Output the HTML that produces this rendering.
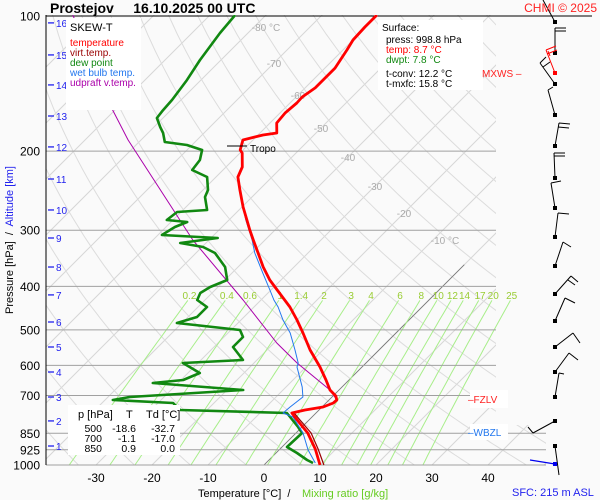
<!DOCTYPE html>
<html><head><meta charset="utf-8"><style>
html,body{margin:0;padding:0;background:#fafafa;}
svg{display:block;font-family:"Liberation Sans",sans-serif;}
</style></head><body>
<svg id="chart" width="600" height="500" viewBox="0 0 600 500" xmlns="http://www.w3.org/2000/svg">
<defs>
<clipPath id="gridClip"><polygon points="46,15 496,15 496,425 546,425 546,465 46,465"/></clipPath>
<clipPath id="mixClip"><polygon points="46,300 520,300 520,465 46,465"/></clipPath>
<clipPath id="dataClip"><rect x="46" y="15" width="500" height="452"/></clipPath>
</defs>
<rect x="0" y="0" width="600" height="500" fill="#fafafa"/>
<g id="grid" clip-path="url(#gridClip)"></g>
<g id="mix" clip-path="url(#mixClip)"></g>
<g id="plevels"></g>
<g id="labels"></g>
<g id="series" clip-path="url(#dataClip)"></g>
<g id="winds"></g>
<g id="over"></g>
</svg>
<script>
// ---- data (pressure hPa, temperature °C) ----
const tempP = [1000,921.2,848.7,793.9,765.9,754.2,742.7,727.6,716.5,702.0,680.7,646.7,605.0,554.5,508.2,475.4,444.7,407.6,387.3,362.3,337.2,315.4,299.7,284.7,266.3,244.1,228.3,216.9,201.9,198.8,188.9,184.1,182.2,173.1,164.5,156.2,151.5,144.6,130.6,119.0,113.1,105.8,99.5];
const tempT = [10.0,6.3,2.1,-2.1,-4.3,-2.5,0.2,1.3,1.4,0.5,-1.6,-4.1,-7.5,-12.3,-16.6,-20.0,-23.6,-28.9,-32.0,-35.5,-38.9,-42.1,-44.5,-46.8,-49.8,-53.4,-56.1,-57.1,-59.6,-60.5,-61.8,-59.1,-57.0,-58.8,-59.1,-58.8,-58.9,-58.2,-58.2,-59.3,-60.0,-60.2,-60.2];
const virtP = [1000,921.2,848.7,793.9,765.9,754.2];
const virtT = [10.7,6.8,2.7,-1.6,-3.9,-2.3];
const wetP = [989.8,926.0,848.7,781.8,765.9,742.7,705.6,670.3,605.0,592.7,554.5,508.2,475.4,444.7,429.0,407.6,373.6,337.2,315.4,284.7,266.3];
const wetT = [8.8,5.2,1.25,-3.4,-5.9,-5.7,-5.2,-7.1,-11.6,-12.1,-15.0,-18.9,-22.5,-25.7,-27.7,-30.2,-34.5,-39.5,-42.3,-47.0,-49.8];
const dewP = [989.8,974.7,940.3,911.8,848.7,822.9,765.9,754.2,727.6,716.5,705.6,680.7,656.7,646.7,623.9,592.7,583.7,546.0,518.7,500.4,482.8,468.1,444.7,429.0,413.9,401.4,387.3,362.3,337.2,327.0,320.3,312.2,307.4,295.1,287.6,284.7,273.2,270.4,253.0,244.1,228.3,220.3,209.3,198.8,193.8,190.8,182.2,176.7,168.7,162.0,153.8,138.9,125.3,109.1,99.5];
const dewT = [8.4,6.8,3.75,0.9,1.1,-0.7,-5.2,-24.8,-27.3,-38.6,-36.1,-17.1,-34.5,-29.6,-27.9,-32.7,-22.5,-26.6,-26.6,-28.4,-40.9,-38.4,-38.4,-41.4,-42.1,-41.4,-39.6,-42.3,-46.6,-49.8,-54.6,-48.8,-59.3,-58.4,-57.1,-61.1,-60.7,-55.7,-58.4,-59.1,-61.6,-65.5,-65.9,-67.3,-70.9,-75.4,-77.3,-78.9,-81.1,-81.4,-81.6,-82.5,-83.75,-85.0,-85.5];
const parcelP = [716.5,680.7,592.7,535.0,429.0,315.4,188.9,162.0,99.5];
const parcelT = [1.4,-1.6,-12.3,-19.5,-33.2,-52.9,-82.3,-90.4,-114.5];
const pLevels = [100,200,300,400,500,600,700,850,925,1000];
const tTicks = [-30,-20,-10,0,10,20,30,40];
const isoLabels = [-80,-70,-60,-50,-40,-30,-20,-10];
const mixRatios = [0.2,0.4,0.6,1,1.4,2,3,4,6,8,10,12,14,17,20,25];
const altKm = [1,2,3,4,5,6,7,8,9,10,11,12,13,14,15,16];
const altP = [907.2,797.7,705.6,620.7,546.0,480.3,418.0,362.3,312.2,270.4,230.7,195.7,167.0,142.4,122.1,103.6];

// ---- axes ----
const Y0=465, PY=195, X0=264, SX=5.6, SK=1.0;
function yOf(p){return Y0-PY*Math.log(1000/p);}
function xOf(t,p){return X0+SX*t+SK*(Y0-yOf(p));}
const NS='http://www.w3.org/2000/svg';
function mk(tag,attrs,parent){const e=document.createElementNS(NS,tag);for(const k in attrs)e.setAttribute(k,attrs[k]);parent.appendChild(e);return e;}
function txt(s,attrs,parent){const e=mk('text',attrs,parent);e.textContent=s;return e;}
const G=id=>document.getElementById(id);

// isotherms
for(let t=-160;t<=50;t+=10){
  const l=mk('line',{x1:xOf(t,1050),y1:yOf(1050),x2:xOf(t,90),y2:yOf(90),stroke:'#d6d6d6','stroke-width':1},G('grid'));
  
  
}
// dry adiabats
for(let th=230;th<=560;th+=10){
  let d='';
  for(let p=1050;p>=90;p-=10){const t=th*Math.pow(p/1000,0.286)-273.15;d+=(d?'L':'M')+xOf(t,p).toFixed(1)+','+yOf(p).toFixed(1);}
  const a=mk('path',{d:d,fill:'none',stroke:'#dcdcdc','stroke-width':1},G('grid'));
  
  
}
// 0°C isotherm highlight
{const z=mk('line',{x1:xOf(0,1010),y1:yOf(1010),x2:xOf(0,358),y2:yOf(358),stroke:'#777','stroke-width':0.8},G('grid'));

}
// mixing ratio lines
function tdOf(w,p){const e=w*p/(622+w);const L=Math.log(e/6.112);return 243.5*L/(17.67-L);}
mixRatios.forEach(w=>{
  let d='';
  for(let p=1000;p>=425;p-=15){d+=(d?'L':'M')+xOf(tdOf(w,p),p).toFixed(1)+','+yOf(p).toFixed(1);}
  const m=mk('path',{d:d,fill:'none',stroke:'#a8ee8a','stroke-width':1},G('mix'));
  
  
  const lb=txt(String(w),{x:xOf(tdOf(w,425),425),y:299,'font-size':10,fill:'#99cc33','text-anchor':'middle'},G('labels'));
  
  
});
// pressure lines & labels
pLevels.forEach(p=>{
  const y=yOf(p);
  const right = p===100?592:(p>=850?546:496);
  const l=mk('line',{x1:46,y1:y,x2:right,y2:y,stroke:p===100?'#000':'#a0a0a0','stroke-width':1},G('plevels'));
  
  
  const t=txt(String(p),{x:40,y:y+4.5,'font-size':12,fill:'#000','text-anchor':'end'},G('labels'));
  
  
});
{const ax=mk('line',{x1:46,y1:15,x2:46,y2:465,stroke:'#000','stroke-width':1},G('plevels'));

}
// temperature ticks
tTicks.forEach(t=>{
  const lb=txt(String(t),{x:xOf(t,1000),y:482,'font-size':12,fill:'#000','text-anchor':'middle'},G('labels'));
  
  
});
// isotherm labels
isoLabels.forEach((t,i)=>{
  const y=[27,63,95,128,157,186,213,240][i];
  const p=1000*Math.exp(-(Y0-y)/PY);
  const lb=txt(t+(t===-80||t===-10?' °C':''),{x:xOf(t,p)+(t===-80||t===-10?12:0),y:y+4,'font-size':10,fill:'#aaaaaa','text-anchor':'middle'},G('labels'));
  
  
});
// altitude labels
altKm.forEach((k,i)=>{
  const y=yOf(altP[i]);
  const d=mk('line',{x1:48,y1:y,x2:54,y2:y,stroke:'#2222ee','stroke-width':1.3},G('labels'));
  
  
  const lb=txt(String(k),{x:56,y:y+4,'font-size':10,fill:'#2222ee'},G('labels'));
  
  
});
// series
function line(P,T,color,w,name){
  let d='';P.forEach((p,i)=>{d+=(i?'L':'M')+xOf(T[i],p).toFixed(1)+','+yOf(p).toFixed(1);});
  const e=mk('path',{d:d,fill:'none',stroke:color,'stroke-width':w,'stroke-linejoin':'round'},G('series'));
  
  
}
line(parcelP,parcelT,'#aa00aa',1,'parcel-line');
line(dewP,dewT,'#118811',2.6,'dewpoint-line');
line(virtP,virtT,'#990000',1.2,'virtual-temperature-line');
line(wetP,wetT,'#2277ee',1,'wet-bulb-line');
line(tempP,tempT,'#ff0000',2.8,'temperature-line');

// wind barbs
const barbs=[
 [22,'M555,22L543,0',''],
 [53,'M555,53L555,28','M555,28L566,28M555,31L566,31'],
 [84,'M555,84L540,63','M540,63L546,57M543,67L550,62'],
 [115,'M555,115L548,90','M548,90L553,87'],
 [146,'M555,146L559,123','M559,123L570,124M558,127L569,128'],
 [178,'M555,178L554,153','M554,153L565,153M554,156L565,156'],
 [208,'M555,208L551,183','M551,183L561,181'],
 [237,'M555,237L558,213','M558,213L569,214'],
 [266,'M555,266L563,242','M563,242L571,247'],
 [294,'M555,294L571,276','M571,276L578,282M568,280L575,285'],
 [321,'M555,321L565,298','M565,298L575,303'],
 [347,'M555,347L573,333','M573,333L580,343'],
 [372,'M555,372L569,353','M569,353L578,360'],
 [397,'M555,397L559,373','M559,373L564,374'],
 [421,'M555,421L533,433','M533,433L528,427'],
 [446,'M555,446L559,475','']
];
barbs.forEach(b=>{
  const g=mk('g',{},G('winds'));
  
  
  mk('path',{d:b[1]+b[2],fill:'none',stroke:'#000','stroke-width':1},g);
  mk('rect',{x:553,y:b[0]-2,width:4,height:4,fill:'#000'},g);
});
{const g=mk('g',{},G('winds'));


mk('path',{d:'M555,73L546,50M546,50L556,46M547,54L557,50M548,51L550,56',fill:'none',stroke:'#ff0000','stroke-width':1},g);
mk('rect',{x:553,y:71,width:4,height:4,fill:'#ff0000'},g);
const s=mk('g',{},G('winds'));


mk('path',{d:'M555,464L530,460',fill:'none',stroke:'#0000ee','stroke-width':1.2},s);
mk('rect',{x:553,y:462,width:4,height:4,fill:'#0000ee'},s);}
</script>
<script>
const O=document.getElementById('over');
function T(s,x,y,size,fill,extra,name){
  const e=document.createElementNS('http://www.w3.org/2000/svg','text');
  e.setAttribute('x',x);e.setAttribute('y',y);e.setAttribute('font-size',size);e.setAttribute('fill',fill);
  if(extra)for(const k in extra)e.setAttribute(k,extra[k]);
  e.textContent=s;
  
  
  O.appendChild(e);return e;
}
function R(x,y,w,h,fill,name){
  const e=document.createElementNS('http://www.w3.org/2000/svg','rect');
  e.setAttribute('x',x);e.setAttribute('y',y);e.setAttribute('width',w);e.setAttribute('height',h);e.setAttribute('fill',fill);
  
  
  O.appendChild(e);
}
T('Prostejov     16.10.2025 00 UTC',50,13,14,'#000',{'font-weight':'bold',style:'white-space:pre'},'chart-title');
T('CHMI © 2025',597,12,12,'#ff2222',{'text-anchor':'end'},'copyright');
// legend
R(66,18,75,92,'#ffffff','legend-box');
T('SKEW-T',70,31,11,'#000',{},'legend-title');
T('temperature',70,46,10,'#ff0000',{},'legend-temperature');
T('virt.temp.',70,56,10,'#990000',{},'legend-virtual-temp');
T('dew point',70,66,10,'#118811',{},'legend-dewpoint');
T('wet bulb temp.',70,76,10,'#2277ee',{},'legend-wet-bulb');
T('udpraft v.temp.',70,86,10,'#aa00aa',{},'legend-updraft');
// surface box
R(378,20,105,70,'#ffffff','surface-box');
T('Surface:',382,31,10,'#000',{},'surface-title');
T('press: 998.8 hPa',386,43,10,'#000',{},'surface-pressure');
T('temp: 8.7 °C',386,53,10,'#ff0000',{},'surface-temp');
T('dwpt: 7.8 °C',386,63,10,'#118811',{},'surface-dewpoint');
T('t-conv: 12.2 °C',386,77,10,'#000',{},'t-conv');
T('t-mxfc: 15.8 °C',386,87,10,'#000',{},'t-mxfc');
// table
R(68,405,112,50,'#ffffff','levels-table-box');
T('p [hPa]',78,418,11,'#000',{},'table-header-p');
T('T',126,418,11,'#000',{},'table-header-t');
T('Td [°C]',146,418,11,'#000',{},'table-header-td');
[['500','-18.6','-32.7',432],['700','-1.1','-17.0',442],['850','0.9','0.0',452]].forEach(r=>{
  T(r[0],102,r[3],10.5,'#000',{'text-anchor':'end'},'table-pressure');
  T(r[1],136,r[3],10.5,'#000',{'text-anchor':'end'},'table-temp');
  T(r[2],175,r[3],10.5,'#000',{'text-anchor':'end'},'table-dewpoint');
});
// tropo
const tl=document.createElementNS('http://www.w3.org/2000/svg','line');
tl.setAttribute('x1',227);tl.setAttribute('y1',146);tl.setAttribute('x2',247);tl.setAttribute('y2',146);tl.setAttribute('stroke','#000');


O.appendChild(tl);
T('Tropo',250,152,10,'#000',{},'tropopause-label');
// level markers
T('MXWS –',482,77,10,'#ff2222',{},'mxws-label');
R(470,390,38,18,'#ffffff','fzlv-box');
T('–FZLV',468,403,10,'#ff2222',{},'fzlv-label');
R(470,424,38,16,'#ffffff','wbzl-box');
T('–WBZL',468,436,10,'#2277ee',{},'wbzl-label');
// axis titles
T('Temperature [°C]  /  ',198,497,11,'#000',{style:'white-space:pre'},'x-axis-title');
T('Mixing ratio [g/kg]',302,497,11,'#66cc22',{},'x-axis-title-mixing');
T('SFC: 215 m ASL',512,496,11,'#2222ee',{},'surface-elevation');
const yt=T('',13,240,11,'#000',{transform:'rotate(-90 13 240)','text-anchor':'middle',style:'white-space:pre'},'y-axis-title');
const s1=document.createElementNS('http://www.w3.org/2000/svg','tspan');s1.textContent='Pressure [hPa]  /  ';yt.appendChild(s1);
const s2=document.createElementNS('http://www.w3.org/2000/svg','tspan');s2.setAttribute('fill','#2222ee');s2.textContent='Altitude [km]';yt.appendChild(s2);
</script>
</body></html>
